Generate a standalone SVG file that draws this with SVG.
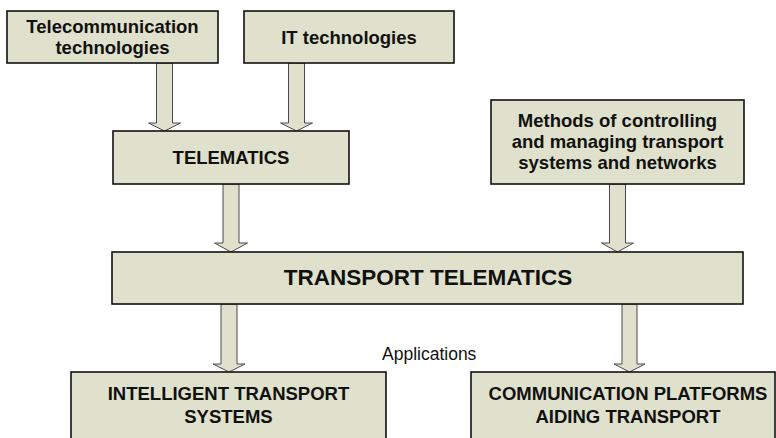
<svg xmlns="http://www.w3.org/2000/svg" width="776" height="438" viewBox="0 0 776 438">
<style>
.box{fill:#dfe1cc;stroke:#111;stroke-width:1.6}
.arr{fill:#dfe1cc;stroke:#4a4a4a;stroke-width:1}
.t{font-family:"Liberation Sans",Arial,sans-serif;font-weight:bold;font-size:18.5px;fill:#111;text-anchor:middle}
.big{font-size:22.5px}
.plain{font-family:"Liberation Sans",Arial,sans-serif;font-size:17.5px;fill:#111}
</style>
<rect width="776" height="438" fill="#fff"/>
<g id="connectors">
<polygon class="arr" points="156.5,63 172.5,63 172.5,123 180.5,123 164.5,131 148.5,123 156.5,123"/>
<polygon class="arr" points="288.5,63 304.5,63 304.5,123 312.5,123 296.5,131 280.5,123 288.5,123"/>
<polygon class="arr" points="609.5,184 625.5,184 625.5,243 633.5,243 617.5,252 601.5,243 609.5,243"/>
<polygon class="arr" points="223,184 239,184 239,243 247.5,243 231,252 214.5,243 223,243"/>
<polygon class="arr" points="221,304 237,304 237,364 245,364 229,372 213,364 221,364"/>
<polygon class="arr" points="622,304 637,304 637,364 645,364 629.5,372 614,364 622,364"/>
</g>
<g id="telecom">
<rect class="box" x="7" y="11" width="211" height="52"/>
<text class="t" x="112.5" y="32.5">Telecommunication</text>
<text class="t" x="112.5" y="53.5">technologies</text>
</g>
<g id="it">
<rect class="box" x="244" y="11" width="210" height="52"/>
<text class="t" x="349" y="43.5">IT technologies</text>
</g>
<g id="telematics">
<rect class="box" x="113" y="131" width="236" height="53"/>
<text class="t" x="231" y="164">TELEMATICS</text>
</g>
<g id="methods">
<rect class="box" x="491" y="100" width="253" height="84"/>
<text class="t" x="617.5" y="127">Methods of controlling</text>
<text class="t" x="617.5" y="148">and managing transport</text>
<text class="t" x="617.5" y="169">systems and networks</text>
</g>
<g id="transport-telematics">
<rect class="box" x="112" y="252" width="631" height="52"/>
<text class="t big" x="428" y="285">TRANSPORT TELEMATICS</text>
</g>
<text class="plain" x="382" y="360">Applications</text>
<g id="its">
<rect class="box" x="71" y="372" width="315" height="80"/>
<text class="t" x="228.5" y="400">INTELLIGENT TRANSPORT</text>
<text class="t" x="228.5" y="422.5">SYSTEMS</text>
</g>
<g id="cp">
<rect class="box" x="471" y="372" width="304" height="80"/>
<text class="t" x="628" y="399.5">COMMUNICATION PLATFORMS</text>
<text class="t" x="628" y="422.5">AIDING TRANSPORT</text>
</g>
</svg>
